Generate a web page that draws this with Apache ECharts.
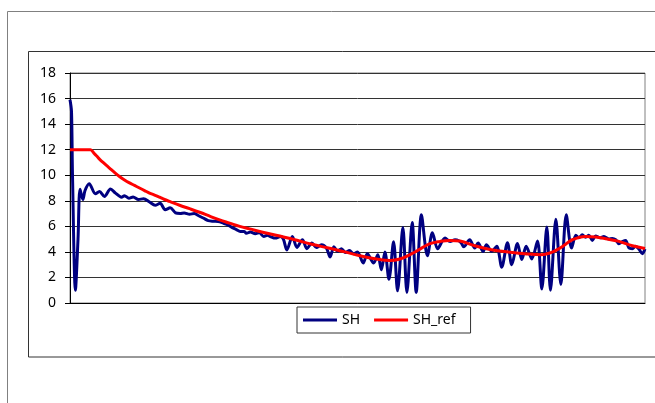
<!DOCTYPE html>
<html>
<head>
<meta charset="utf-8">
<style>
  html, body { margin: 0; padding: 0; background: #fff; }
  #chart { width: 655px; height: 403px; }
</style>
<script src="https://cdn.jsdelivr.net/npm/echarts@6/dist/echarts.min.js"></script>
</head>
<body>
<div id="chart"></div>
<script>
// Sample position (arbitrary units, no x labels in the original) and values
const shT = [0,1.5,2.5,5.4,8,10,12.9,15,19.2,25.4,29.4,34.4,40.4,45.4,51.4,54.4,58.8,63,68.4,73.4,79.4,85,90,95,100,105.4,110,114,119.4,124,128,133,138,143,148,153,158,162,166,170,174,176,180,185,189,193.4,197,200,205,210,213,216.5,222,226.5,232,236.5,241.5,246,251,256,259.7,263.4,267,271,275,279,283,287,292.7,296.8,303.1,307.3,310.8,314.4,318.4,323,327,332.3,336.3,341.6,345.6,350.8,356.8,361.8,367,374.4,379.4,384.4,388.4,391,393,399,404,407.4,412.4,415.7,421,426,431,436.7,441,446.7,451,455.4,461,466.7,471,476,479.6,485,490,495.4,500.7,505,508,511.4,514.7,518,521.4,524.7,529.4,533,538,541.4,544.7,548,551.4,554.7,558,561.4,564.7,568,571.4,574];
const shV = [15.9,15.0,10.0,1.0,5.0,8.9,8.1,8.8,9.33,8.55,8.73,8.34,8.92,8.6,8.28,8.4,8.2,8.3,8.1,8.16,7.9,7.65,7.8,7.3,7.45,7.05,7.0,7.05,6.95,7.0,6.85,6.65,6.45,6.4,6.38,6.25,6.1,5.9,5.75,5.6,5.6,5.45,5.55,5.42,5.5,5.2,5.3,5.2,5.08,5.2,5.0,4.15,5.21,4.35,4.95,4.25,4.7,4.35,4.55,4.3,3.6,4.4,4.05,4.25,3.95,4.1,3.85,4.0,3.13,3.86,3.13,3.78,2.6,4.0,1.85,4.8,0.95,5.9,0.83,6.3,0.83,6.9,3.7,5.5,4.25,5.08,4.82,4.95,4.85,4.65,4.4,4.95,4.3,4.7,4.04,4.56,4.05,4.45,2.8,4.72,3.0,4.65,3.4,4.45,3.45,4.85,1.1,5.95,1.0,6.55,1.45,6.9,4.3,5.3,5.1,5.34,5.15,5.3,4.9,5.25,5.1,5.21,5.0,5.05,4.95,4.64,4.8,4.9,4.3,4.25,4.45,4.2,3.86,4.22];

const refT = [0,20.4,22.4,24.4,26.9,29.4,34.4,39.4,44.4,49.4,54.4,59.4,64.4,69.4,74.4,79.4,84.4,89.4,94.4,99.4,109.4,119.4,129.4,139.4,149.4,159.4,169.4,179.4,193.4,209.4,224.4,241.4,258,274.4,289.4,306,319.4,329.4,339.4,349.4,359.4,369.4,379.4,389.4,404,420.7,437.4,454,470.7,480.7,487.4,493,501.4,514.7,524.7,534.7,548,561.4,574];
const refV = [12.0,12.0,11.88,11.68,11.48,11.26,10.9,10.56,10.22,9.9,9.63,9.4,9.2,9.0,8.8,8.6,8.45,8.28,8.1,7.95,7.65,7.38,7.1,6.8,6.5,6.25,6.0,5.8,5.52,5.25,4.95,4.6,4.3,4.0,3.7,3.44,3.32,3.44,3.78,4.22,4.64,4.82,4.9,4.85,4.48,4.17,3.99,3.86,3.78,3.96,4.22,4.5,4.95,5.21,5.16,5.03,4.82,4.48,4.27];

const yTicks = [0, 2, 4, 6, 8, 10, 12, 14, 16, 18];
const seriesNames = ['SH', 'SH_ref'];

const zip = (a, b) => a.map((x, i) => [x, b[i]]);

const chart = echarts.init(document.getElementById('chart'), null, { renderer: 'canvas' });
const FONT = '"Noto Sans", "DejaVu Sans", sans-serif';

chart.setOption({
  animation: false,
  backgroundColor: '#ffffff',
  graphic: [
    { type: 'rect', silent: true, z: -10,
      shape: { x: 7.5, y: 11.5, width: 700, height: 500 },
      style: { fill: 'none', stroke: '#808080', lineWidth: 1 } },
    { type: 'rect', silent: true, z: -9,
      shape: { x: 28.5, y: 51.5, width: 700, height: 305.5 },
      style: { fill: 'none', stroke: '#333333', lineWidth: 1 } }
  ],
  grid: {
    left: 70, top: 73, width: 575, height: 230,
    show: true, borderColor: '#808080', borderWidth: 1, backgroundColor: 'transparent'
  },
  legend: {
    data: seriesNames,
    left: 297, top: 307,
    orient: 'horizontal',
    icon: 'rect',
    itemWidth: 34, itemHeight: 3, itemGap: 14,
    padding: [6, 15, 6, 6],
    borderColor: '#333333', borderWidth: 1,
    textStyle: { fontFamily: FONT, fontSize: 14, color: '#000' }
  },
  xAxis: {
    type: 'value', min: 0, max: 574,
    axisLine: { show: true, lineStyle: { color: '#000', width: 1 } },
    axisTick: { show: false },
    axisLabel: { show: false },
    splitLine: { show: false }
  },
  yAxis: {
    type: 'value', min: yTicks[0], max: yTicks[yTicks.length - 1], interval: 2,
    axisLine: { show: true, lineStyle: { color: '#000', width: 1 } },
    axisTick: { show: true, inside: false, length: 5, lineStyle: { color: '#000' } },
    axisLabel: { fontFamily: FONT, fontSize: 14, color: '#000', margin: 14 },
    splitLine: { show: true, lineStyle: { color: '#333333', width: 1 } }
  },
  series: [
    {
      name: seriesNames[0], type: 'line', data: zip(shT, shV),
      showSymbol: false, smooth: 0.3,
      lineStyle: { color: '#000080', width: 3 },
      itemStyle: { color: '#000080' }
    },
    {
      name: seriesNames[1], type: 'line', data: zip(refT, refV),
      showSymbol: false, smooth: 0.4,
      lineStyle: { color: '#ff0000', width: 3 },
      itemStyle: { color: '#ff0000' }
    }
  ]
});
</script>
</body>
</html>
